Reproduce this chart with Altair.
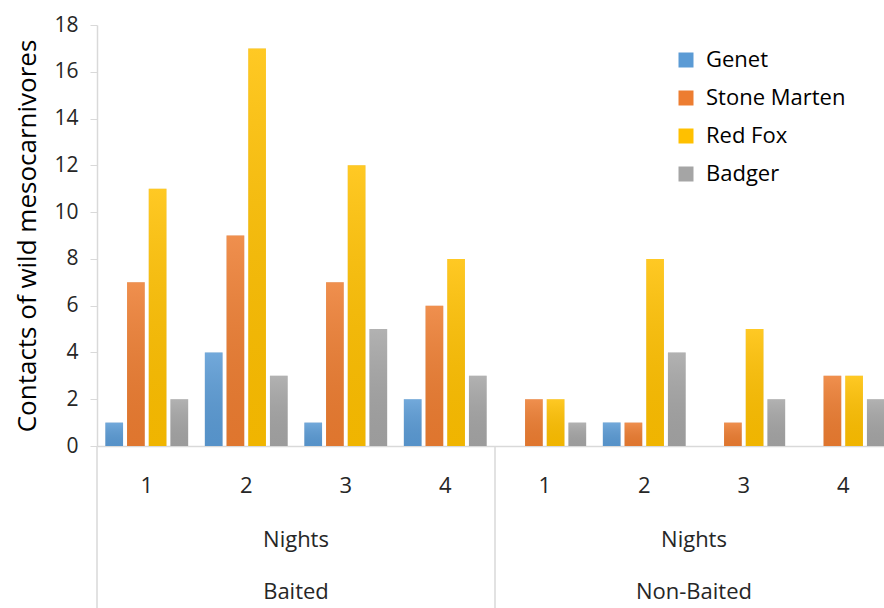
import altair as alt
import pandas as pd

# ---- data ----
treatments = ["Baited"] * 4 + ["Non-Baited"] * 4
nights = [1, 2, 3, 4, 1, 2, 3, 4]
species = ["Genet", "Stone Marten", "Red Fox", "Badger"]
genet = [1, 4, 1, 2, 0, 1, 0, 0]
stone_marten = [7, 9, 7, 6, 2, 1, 1, 3]
red_fox = [11, 17, 12, 8, 2, 8, 5, 3]
badger = [2, 3, 5, 3, 1, 4, 2, 2]
colors = ["#5B9BD5", "#ED7D31", "#FFC000", "#A5A5A5"]
level2 = ["Nights", "Nights"]
level3 = ["Baited", "Non-Baited"]

keys = [t[0] + str(n) for t, n in zip(treatments, nights)]
series = dict(zip(species, [genet, stone_marten, red_fox, badger]))
rows = []
for sp in species:
    for k, t, n, v in zip(keys, treatments, nights, series[sp]):
        rows.append({"key": k, "treatment": t, "night": n, "species": sp, "value": v})
df = pd.DataFrame(rows)

lab_df = pd.DataFrame({"key": ["B2", "N2"], "level2": level2, "level3": level3})
sep_df = pd.DataFrame({"key": ["B1", "N1"]})

FONT = "Open Sans"
xscale = alt.Scale(domain=keys, range=[0, 796], paddingInner=0, paddingOuter=0)
yscale = alt.Scale(domain=[0, 18])
offscale = alt.Scale(domain=species, paddingInner=0.184, paddingOuter=0.385)

x_axis = alt.Axis(title=None, labelExpr="substring(datum.label, 1)",
                  labelAngle=0, labelFontSize=22, labelColor="#262626",
                  labelFont=FONT, ticks=False, labelPadding=29,
                  domainColor="#d9d9d9", domainWidth=1.5)
x_enc = alt.X("key:N", scale=xscale, sort=keys, axis=x_axis)
xo_enc = alt.XOffset("species:N", scale=offscale, sort=species)
y_enc = alt.Y("value:Q", scale=yscale,
              axis=alt.Axis(title="Contacts of wild mesocarnivores", values=list(range(0, 19, 2)),
                            grid=False, tickColor="#d9d9d9", tickSize=7, domainColor="#d9d9d9",
                            domainWidth=1.5, labelFontSize=21, labelColor="#262626", labelFont=FONT,
                            labelPadding=12, titleFontSize=26, titleFont=FONT,
                            titleFontWeight="normal", titleColor="#000000", titlePadding=13))

base = alt.Chart(df)

shadow = base.mark_bar(clip=True, color="#000000", opacity=0.10, xOffset=1.5).encode(
    x=x_enc, xOffset=xo_enc, y=y_enc,
)

bars = base.mark_bar(clip=True).encode(
    x=x_enc, xOffset=xo_enc, y=y_enc,
    color=alt.Color("species:N", sort=species,
                    scale=alt.Scale(domain=species, range=colors),
                    legend=alt.Legend(title=None, orient="none", legendX=578, legendY=24,
                                      symbolType="square", symbolSize=225, symbolStrokeWidth=0,
                                      labelFontSize=22, labelFont=FONT, labelColor="#000000",
                                      labelOffset=9, rowPadding=16)),
)

shine = base.mark_bar(clip=True, fill={
    "gradient": "linear", "x1": 0, "y1": 0, "x2": 0, "y2": 1,
    "stops": [{"offset": 0, "color": "rgba(255,255,255,0.14)"},
              {"offset": 1, "color": "rgba(0,0,0,0.06)"}]}).encode(
    x=x_enc, xOffset=xo_enc, y=y_enc,
)

seps = alt.Chart(sep_df).mark_rule(color="#d9d9d9", strokeWidth=1.5).encode(
    x=alt.X("key:N", scale=xscale, bandPosition=0, axis=x_axis),
    y=alt.value(421), y2=alt.value(583),
)

lab2 = alt.Chart(lab_df).mark_text(fontSize=22, font=FONT, color="#262626").encode(
    x=alt.X("key:N", scale=xscale, bandPosition=1, axis=x_axis),
    y=alt.value(515),
    text="level2:N",
)
lab3 = alt.Chart(lab_df).mark_text(fontSize=22, font=FONT, color="#262626").encode(
    x=alt.X("key:N", scale=xscale, bandPosition=1, axis=x_axis),
    y=alt.value(567),
    text="level3:N",
)

chart = alt.layer(shadow, bars, shine, seps, lab2, lab3).properties(
    width=787, height=421,
    autosize=alt.AutoSizeParams(type="none"),
    padding={"left": 97, "top": 25, "right": 0, "bottom": 162},
).configure(background="white").configure_view(strokeWidth=0, stroke="transparent")

chart.save("out.html", embed_options={"renderer": "svg", "actions": False})
